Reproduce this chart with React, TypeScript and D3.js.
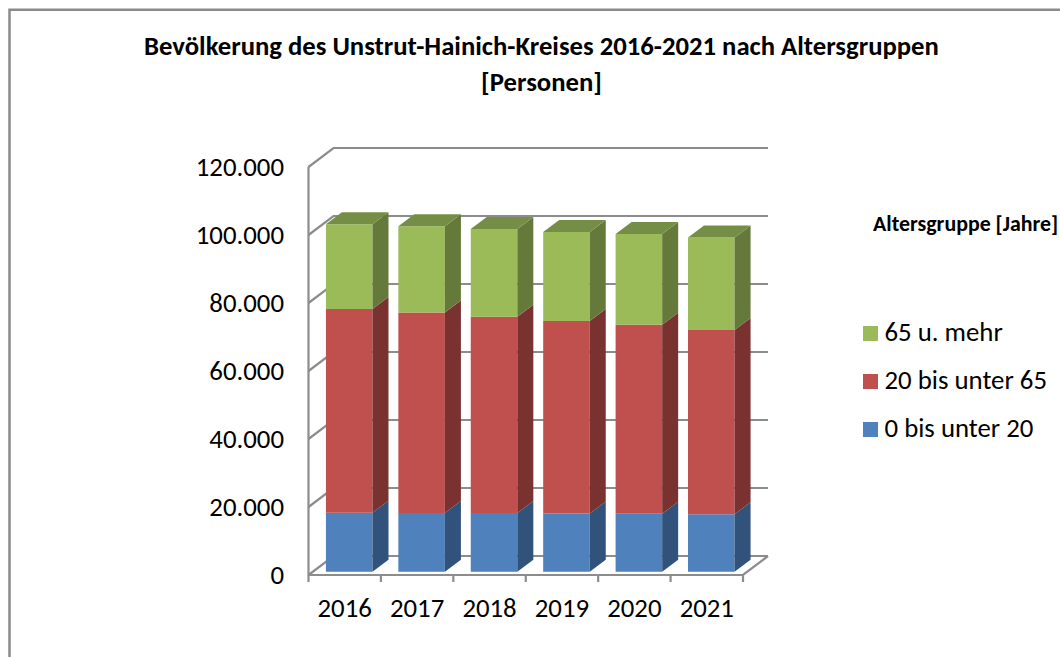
import React from "react";
import * as d3 from "d3";

// Population by age group, persons
const years = ["2016", "2017", "2018", "2019", "2020", "2021"];
const youngValues = [17350, 17300, 17250, 17100, 17050, 16900];
const workingValues = [59950, 58900, 57750, 56600, 55550, 54200];
const olderValues = [24900, 25400, 25800, 26200, 26700, 27200];
const seriesKeys = ["young", "working", "older"];
const legendLabels = ["65 u. mehr", "20 bis unter 65", "0 bis unter 20"];
const yTicks = [0, 20000, 40000, 60000, 80000, 100000, 120000];
const titleLines = [
  "Bevölkerung des Unstrut-Hainich-Kreises 2016-2021 nach Altersgruppen",
  "[Personen]",
];

const FONT = "Carlito, Calibri, Lato, sans-serif";
const AXIS = "#8c8c8c";

const frontColor = { young: "#4f81bd", working: "#c0504d", older: "#9bbb59" };
const sideColor = { young: "#31527a", working: "#7a3230", older: "#657a3a" };
const topColor = "#748f45";

// Oblique projection of the box: depth moves right and up
const depth = { dx: 25, dy: -19 };
const barInset = { dx: 4.5, dy: -3.3 };
const barDepth = { dx: 16, dy: -12 };

const x = d3.scaleBand().domain(years).range([308.5, 743]).paddingInner(0.357).paddingOuter(0.1785);
const y = d3.scaleLinear().domain([0, 120000]).range([575, 167]);

const rows = years.map((year, i) => ({
  year,
  young: youngValues[i],
  working: workingValues[i],
  older: olderValues[i],
}));
const stacked = d3.stack().keys(seriesKeys)(rows);

const poly = (pts: number[][]) => (d3.line()(pts as [number, number][]) ?? "") + "Z";
const germanNumber = (v: number) => String(v).replace(/\B(?=(\d{3})+$)/g, ".");

export default function App() {
  const left = x.range()[0];
  const right = x.range()[1];
  const baseY = y(0);
  const tickEdges = [left, ...years.map((_, i) => left + (i + 1) * x.step())];

  return (
    <svg
      width={1060}
      height={657}
      style={{ position: "absolute", left: 0, top: 0, background: "#fff", fontFamily: FONT }}
    >
      {/* chart frame, open at the cut right and bottom edges */}
      <path d="M9.5 657V9.7H1060" fill="none" stroke="#8a8a8a" strokeWidth={2.5} />

      {titleLines.map((line, i) => (
        <text key={line} x={541.5} y={55 + i * 36} textAnchor="middle" fontSize={26.7} fontWeight={700} fill="#000">
          {line}
        </text>
      ))}

      {/* back wall gridlines and their diagonal runs to the value axis */}
      <g stroke={AXIS} strokeWidth={2.2} fill="none">
        {yTicks.map((t) => (
          <path
            key={t}
            d={`M${left} ${y(t)}L${left + depth.dx} ${y(t) + depth.dy}H${right + depth.dx}`}
          />
        ))}
        <path d={`M${left} ${baseY}H${right}L${right + depth.dx} ${baseY + depth.dy}`} />
        <path d={`M${left} ${y(120000)}V${baseY}`} />
        {tickEdges.map((t) => (
          <path key={t} d={`M${t} ${baseY}v7`} />
        ))}
      </g>

      {yTicks.map((t) => (
        <text key={t} x={284} y={y(t) + 9} textAnchor="end" fontSize={26.8} fill="#000">
          {germanNumber(t)}
        </text>
      ))}
      {years.map((year) => (
        <text
          key={year}
          x={(x(year) as number) + x.bandwidth() / 2}
          y={617}
          textAnchor="middle"
          fontSize={26.8}
          fill="#000"
        >
          {year}
        </text>
      ))}

      {/* stacked 3D columns */}
      {years.map((year, i) => {
        const x0 = (x(year) as number) + barInset.dx;
        const x1 = x0 + x.bandwidth();
        return (
          <g key={year}>
            {stacked.map((layer) => {
              const key = layer.key as keyof typeof frontColor;
              const yb = y(layer[i][0]) + barInset.dy;
              const yt = y(layer[i][1]) + barInset.dy;
              return (
                <g key={key}>
                  <path d={poly([[x0, yb], [x1, yb], [x1, yt], [x0, yt]])} fill={frontColor[key]} />
                  <path
                    d={poly([
                      [x1, yb],
                      [x1 + barDepth.dx, yb + barDepth.dy],
                      [x1 + barDepth.dx, yt + barDepth.dy],
                      [x1, yt],
                    ])}
                    fill={sideColor[key]}
                  />
                  {key === "older" && (
                    <path
                      d={poly([
                        [x0, yt],
                        [x1, yt],
                        [x1 + barDepth.dx, yt + barDepth.dy],
                        [x0 + barDepth.dx, yt + barDepth.dy],
                      ])}
                      fill={topColor}
                    />
                  )}
                </g>
              );
            })}
          </g>
        );
      })}

      <text x={873} y={231} fontSize={21.9} fontWeight={700} fill="#000">
        Altersgruppe [Jahre]
      </text>
      {legendLabels.map((label, i) => {
        const key = seriesKeys[seriesKeys.length - 1 - i] as keyof typeof frontColor;
        return (
          <g key={label}>
            <rect x={863} y={326 + i * 48} width={15} height={15} fill={frontColor[key]} />
            <text x={884.5} y={341 + i * 48} fontSize={26.8} fill="#000">
              {label}
            </text>
          </g>
        );
      })}
    </svg>
  );
}
